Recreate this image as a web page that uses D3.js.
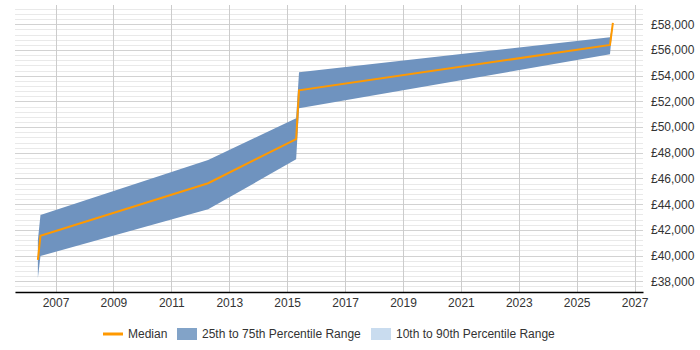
<!DOCTYPE html>
<html>
<head>
<meta charset="utf-8">
<script src="https://cdn.jsdelivr.net/npm/d3@7"></script>
<style>
  body { margin: 0; background: #fff; }
  svg { font-family: "Liberation Sans", Arial, sans-serif; }
</style>
</head>
<body>
<div id="chart"></div>
<script>
"use strict";

// dates as fractional years
const dates  = [2006.39, 2006.48, 2012.27, 2015.31, 2015.41, 2026.15, 2026.25];
const median = [39660, 41550, 45630, 49070, 52860, 56390, 58120];
const p25    = [38250, 39970, 43600, 47490, 51460, 55660, 58100];
const p75    = [41200, 43160, 47440, 50690, 54270, 56990, 58140];

const yearTicks = [2007, 2009, 2011, 2013, 2015, 2017, 2019, 2021, 2023, 2025, 2027];
const salaryTicks = [38000, 40000, 42000, 44000, 46000, 48000, 50000, 52000, 54000, 56000, 58000];

const legendItems = ["Median", "25th to 75th Percentile Range", "10th to 90th Percentile Range"];

let width = 700, height = 350;
let plotLeft = 15, plotRight = 643, plotTop = 5, plotBottom = 292;

let rows = dates.map(function(d, i) {
  return { t: d, med: median[i], lo: p25[i], hi: p75[i] };
});

let x = d3.scaleLinear().domain([2005.6, 2027.29]).range([plotLeft, plotRight]);
let y = d3.scaleLinear().domain([37167, 59502]).range([plotBottom, plotTop]);

let svg = d3.select("#chart").append("svg")
  .attr("width", width)
  .attr("height", height);

// horizontal gridlines, minor every 400
let minor = d3.range(37200, 59500, 400);
svg.append("g").selectAll("line").data(minor)
  .enter().append("line")
    .attr("x1", plotLeft).attr("x2", plotRight)
    .attr("y1", function(d) { return Math.round(y(d)) + 0.5; })
    .attr("y2", function(d) { return Math.round(y(d)) + 0.5; })
    .style("stroke", function(d) { return d % 2000 === 0 ? "#d2d2d2" : "#e9e9e9"; })
    .style("stroke-width", 1);

// vertical gridlines
svg.append("g").selectAll("line").data(yearTicks)
  .enter().append("line")
    .attr("x1", function(d) { return Math.round(x(d)) + 0.5; })
    .attr("x2", function(d) { return Math.round(x(d)) + 0.5; })
    .attr("y1", plotTop).attr("y2", plotBottom)
    .style("stroke", "#cccccc");

// 25th to 75th band
let band = d3.area()
  .x(function(d) { return x(d.t); })
  .y0(function(d) { return y(d.lo); })
  .y1(function(d) { return y(d.hi); });

svg.append("path").datum(rows)
  .attr("d", band)
  .style("fill", "#6f93bf");

// median line
let line = d3.line()
  .x(function(d) { return x(d.t); })
  .y(function(d) { return y(d.med); });

svg.append("path").datum(rows)
  .attr("d", line)
  .style("fill", "none")
  .style("stroke", "#ff9900")
  .style("stroke-width", 2);

// x axis
let xAxis = svg.append("g")
  .attr("transform", "translate(0," + plotBottom + ")")
  .call(d3.axisBottom(x).tickValues(yearTicks).tickFormat(d3.format("d")).tickSize(0).tickPadding(6));
xAxis.select(".domain").style("stroke", "#000").style("stroke-width", 1.5);
xAxis.selectAll("text").style("font-size", "12px").style("fill", "#333")
  .style("font-family", "Liberation Sans, Arial, sans-serif");

// y axis on the right
let yAxis = svg.append("g")
  .attr("transform", "translate(" + plotRight + ",0)")
  .call(d3.axisRight(y).tickValues(salaryTicks)
    .tickFormat(function(d) { return "£" + d3.format(",")(d); })
    .tickSize(0).tickPadding(8));
yAxis.select(".domain").remove();
yAxis.selectAll("text").style("font-size", "12px").style("fill", "#333")
  .style("font-family", "Liberation Sans, Arial, sans-serif");

// legend
let legend = svg.append("g").attr("transform", "translate(0,334)");
let legendX = [103, 177, 371];

legend.append("line")
  .attr("x1", legendX[0]).attr("x2", legendX[0] + 20)
  .attr("y1", 0).attr("y2", 0)
  .style("stroke", "#ff9900").style("stroke-width", 3);
legend.append("rect")
  .attr("x", legendX[1]).attr("y", -6).attr("width", 20).attr("height", 12)
  .style("fill", "#82a3c8");
legend.append("rect")
  .attr("x", legendX[2]).attr("y", -6).attr("width", 20).attr("height", 12)
  .style("fill", "#c9dcef");

legend.selectAll("text").data(legendItems)
  .enter().append("text")
    .attr("x", function(d, i) { return legendX[i] + 25; })
    .attr("y", 0)
    .attr("dy", "0.35em")
    .style("font-size", "12px")
    .style("fill", "#333")
    .text(function(d) { return d; });
</script>
</body>
</html>
